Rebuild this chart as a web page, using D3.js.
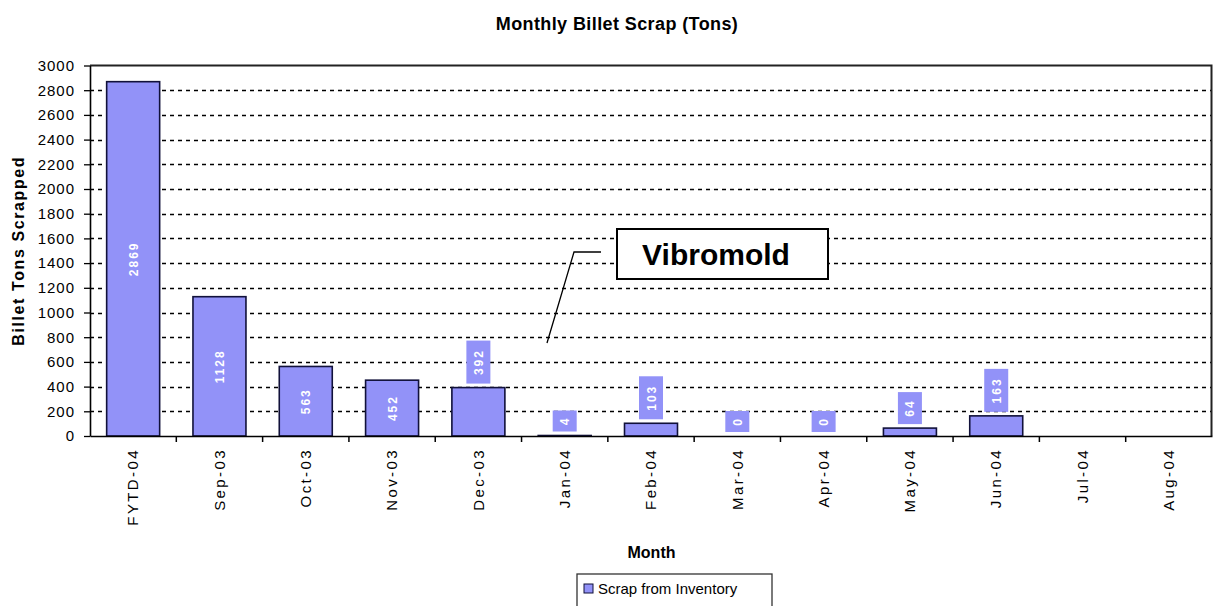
<!DOCTYPE html>
<html>
<head>
<meta charset="utf-8">
<script src="https://cdn.jsdelivr.net/npm/d3@7"></script>
<style>
  body { margin: 0; background: #fff; }
  text { font-family: Arial, "Liberation Sans", sans-serif; }
</style>
</head>
<body>
<svg width="1213" height="606"></svg>
<script>
var months = ["FYTD-04", "Sep-03", "Oct-03", "Nov-03", "Dec-03", "Jan-04", "Feb-04",
              "Mar-04", "Apr-04", "May-04", "Jun-04", "Jul-04", "Aug-04"];
var scrap = [2869, 1128, 563, 452, 392, 4, 103, 0, 0, 64, 163, null, null];
var yTicks = d3.range(0, 3001, 200);
var seriesName = "Scrap from Inventory";
var calloutText = "Vibromold";

var svg = d3.select("svg");
var margin = {left: 90, right: 1, top: 65.5, bottom: 170};
var width = +svg.attr("width");
var height = +svg.attr("height");
var barColor = "#9292f8";
var barStroke = "#11113a";

var x = d3.scaleBand()
    .domain(months)
    .range([margin.left, width - margin.right])
    .paddingInner(0.386)
    .paddingOuter(0.193);
var y = d3.scaleLinear()
    .domain([0, 3000])
    .range([height - margin.bottom, margin.top]);
var step = x.step();

// title
svg.append("text")
    .attr("x", 617).attr("y", 30)
    .attr("text-anchor", "middle")
    .style("font-size", "18px").style("font-weight", "bold")
    .style("letter-spacing", "0.4px")
    .text("Monthly Billet Scrap (Tons)");

// grid
svg.append("g")
  .selectAll("line")
  .data(yTicks.filter(function(d) { return d > 0 && d < 3000; }))
  .enter().append("line")
    .attr("x1", margin.left).attr("x2", width - margin.right)
    .attr("y1", function(d) { return Math.round(y(d)) + 0.5; })
    .attr("y2", function(d) { return Math.round(y(d)) + 0.5; })
    .attr("stroke", "#000")
    .attr("stroke-dasharray", "4,4")
    .attr("stroke-width", 1.6);

// plot frame (top + right)
svg.append("path")
    .attr("d", "M" + margin.left + "," + y(3000) + "H" + (width - margin.right - 0.5) + "V" + y(0))
    .attr("fill", "none").attr("stroke", "#222").attr("stroke-width", 2);

// bars
var bars = months.map(function(m, i) { return {month: m, value: scrap[i]}; })
    .filter(function(d) { return d.value != null; });

svg.append("g")
  .selectAll("rect")
  .data(bars.filter(function(d) { return d.value > 0; }))
  .enter().append("rect")
    .attr("x", function(d) { return x(d.month); })
    .attr("y", function(d) { return y(d.value); })
    .attr("width", x.bandwidth())
    .attr("height", function(d) { return y(0) - y(d.value); })
    .attr("fill", barColor)
    .attr("stroke", barStroke)
    .attr("stroke-width", 1.6);

// data labels
var lab = svg.append("g");
bars.forEach(function(d) {
  var cx = x(d.month) + x.bandwidth() / 2;
  var h = y(0) - y(d.value);
  var txt = String(d.value);
  var tw = txt.length * 11 + 10;
  var cy;
  if (h > 52) {
    cy = (y(d.value) + y(0)) / 2;
  } else {
    cy = y(d.value) - 4 - tw / 2;
    lab.append("rect")
        .attr("x", cx - 12).attr("y", cy - tw / 2)
        .attr("width", 24).attr("height", tw)
        .attr("fill", barColor);
  }
  lab.append("text")
      .attr("transform", "translate(" + (cx + 4.5) + "," + cy + ") rotate(-90)")
      .attr("text-anchor", "middle")
      .style("font-size", "12px").style("font-weight", "bold")
      .style("letter-spacing", "2px")
      .attr("fill", "#fff")
      .text(txt);
});

// y axis
var yAxis = svg.append("g")
    .attr("transform", "translate(" + margin.left + ",0)")
    .call(d3.axisLeft(y).tickValues(yTicks).tickFormat(d3.format("d"))
      .tickSize(6).tickPadding(9).tickSizeOuter(0));
yAxis.select(".domain").attr("stroke", "#000").attr("stroke-width", 1.6);
yAxis.selectAll(".tick line").attr("stroke", "#000").attr("stroke-width", 1.3);
yAxis.selectAll("text")
    .style("font-size", "15px").style("letter-spacing", "1px")
    .attr("fill", "#000");

// x axis
var xAxis = svg.append("g")
    .attr("transform", "translate(0," + y(0) + ")")
    .call(d3.axisBottom(x).tickSize(0).tickSizeOuter(0));
xAxis.select(".domain").attr("stroke", "#000").attr("stroke-width", 1.6);
xAxis.selectAll(".tick text")
    .attr("transform", "rotate(-90)")
    .attr("text-anchor", "end")
    .attr("x", -12).attr("y", 0).attr("dy", "0.35em")
    .style("font-size", "15px").style("letter-spacing", "2.4px")
    .attr("fill", "#000");
xAxis.append("g")
  .selectAll("line")
  .data(months.slice(1))
  .enter().append("line")
    .attr("x1", function(d) { return x(d) - (step - x.bandwidth()) / 2; })
    .attr("x2", function(d) { return x(d) - (step - x.bandwidth()) / 2; })
    .attr("y1", 0).attr("y2", 6)
    .attr("stroke", "#000").attr("stroke-width", 1.5);

// axis titles
svg.append("text")
    .attr("transform", "translate(24," + ((y(0) + y(3000)) / 2) + ") rotate(-90)")
    .attr("text-anchor", "middle")
    .style("font-size", "16px").style("font-weight", "bold")
    .style("letter-spacing", "1.6px")
    .text("Billet Tons Scrapped");
svg.append("text")
    .attr("x", (margin.left + width) / 2).attr("y", 558)
    .attr("text-anchor", "middle")
    .style("font-size", "16px").style("font-weight", "bold")
    .text("Month");

// legend
var leg = svg.append("g").attr("transform", "translate(577,574)");
leg.append("rect")
    .attr("x", 0).attr("y", 0).attr("width", 195).attr("height", 40)
    .attr("fill", "#fff").attr("stroke", "#333").attr("stroke-width", 1.3);
leg.append("rect")
    .attr("x", 7).attr("y", 10).attr("width", 9).attr("height", 9)
    .attr("fill", barColor).attr("stroke", barStroke).attr("stroke-width", 1);
leg.append("text")
    .attr("x", 21).attr("y", 20)
    .style("font-size", "15px")
    .text(seriesName);

// callout
var ann = svg.append("g");
ann.append("path")
    .attr("d", "M601,252H574L547,343")
    .attr("fill", "none").attr("stroke", "#000").attr("stroke-width", 1.3);
ann.append("rect")
    .attr("x", 617).attr("y", 229).attr("width", 211).attr("height", 50)
    .attr("fill", "#fff").attr("stroke", "#000").attr("stroke-width", 2);
ann.append("text")
    .attr("x", 716).attr("y", 265)
    .attr("text-anchor", "middle")
    .style("font-size", "30px").style("font-weight", "bold")
    .text(calloutText);
</script>
</body>
</html>
